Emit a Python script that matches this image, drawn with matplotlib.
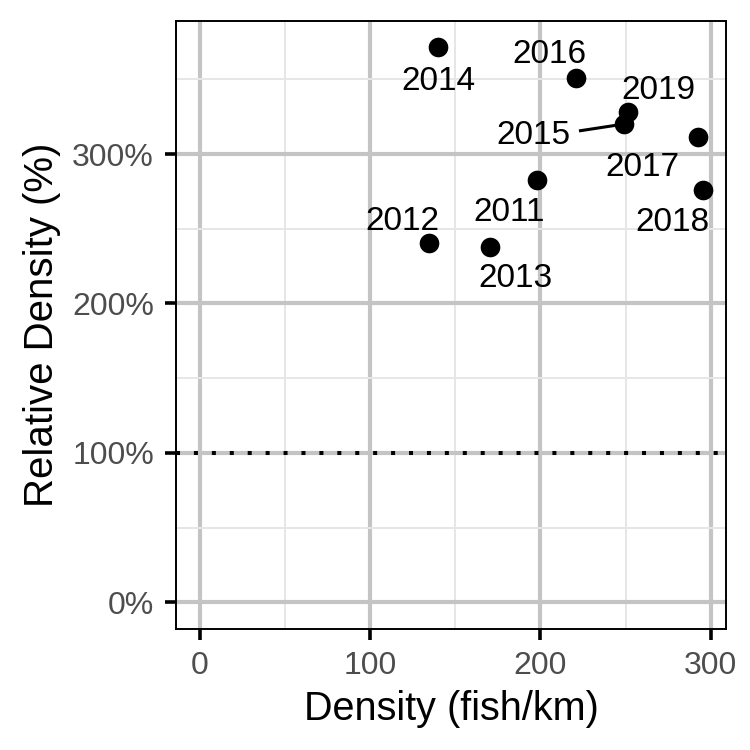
import matplotlib.pyplot as plt
import matplotlib.transforms as mtransforms
import numpy as np

years = ["2011", "2012", "2013", "2014", "2015", "2016", "2017", "2018", "2019"]
density = [198.2, 134.3, 170.3, 140.0, 248.8, 220.9, 292.3, 295.2, 251.6]
rel_density = [282.6, 240.3, 238.1, 371.3, 320.0, 350.8, 311.6, 275.9, 327.8]
# label positions (as placed by the repel step)
label_x = [181.8, 118.7, 185.0, 140.0, 196.0, 205.5, 259.8, 277.4, 269.2]
label_y = [263.3, 257.7, 219.2, 351.2, 315.0, 369.0, 293.8, 256.6, 345.2]

plt.rcParams['font.family'] = ['Liberation Sans', 'DejaVu Sans']

fig = plt.figure(figsize=(7.5, 7.5), dpi=100)
ax = fig.add_axes([0.235, 0.161, 0.733, 0.811])

ax.set_xlim(-14, 309)
ax.set_ylim(-18, 389)

ax.set_xticks([0, 100, 200, 300])
ax.set_xticks([50, 150, 250], minor=True)
ax.set_yticks([0, 100, 200, 300])
ax.set_yticks([50, 150, 250, 350], minor=True)
ax.set_yticklabels([f"{v}%" for v in [0, 100, 200, 300]])

ax.grid(which='major', color='#c4c4c4', linewidth=3.0, zorder=0)
ax.grid(which='minor', color='#e6e6e6', linewidth=1.4, zorder=0)
ax.set_axisbelow(True)

ax.tick_params(which='major', length=8, width=2.6, color='black', labelsize=23,
               labelcolor='#4d4d4d', pad=8)
ax.tick_params(which='minor', length=0)
for s in ax.spines.values():
    s.set_linewidth(1.4)
    s.set_color('black')

ax.axhline(100, color='black', linestyle=(0, (1, 3.45)), linewidth=2.9, zorder=2)

# connector for 2015
ax.plot([223.5, 248.8], [315.6, 320.0], color='black', linewidth=2.2, zorder=3)

ax.scatter(density, rel_density, s=200, color='black', zorder=4, linewidths=0)

shift = mtransforms.offset_copy(ax.transData, fig=fig, x=0, y=-4, units='dots')
for yr, lx, ly in zip(years, label_x, label_y):
    ax.text(lx, ly, yr, fontsize=24, ha='center', va='center', color='black',
            zorder=5, transform=shift)

ax.set_xlabel("Density (fish/km)", fontsize=28.5, labelpad=6)
ax.set_ylabel("Relative Density (%)", fontsize=29, labelpad=8)

fig.savefig("out.png", dpi=100)
